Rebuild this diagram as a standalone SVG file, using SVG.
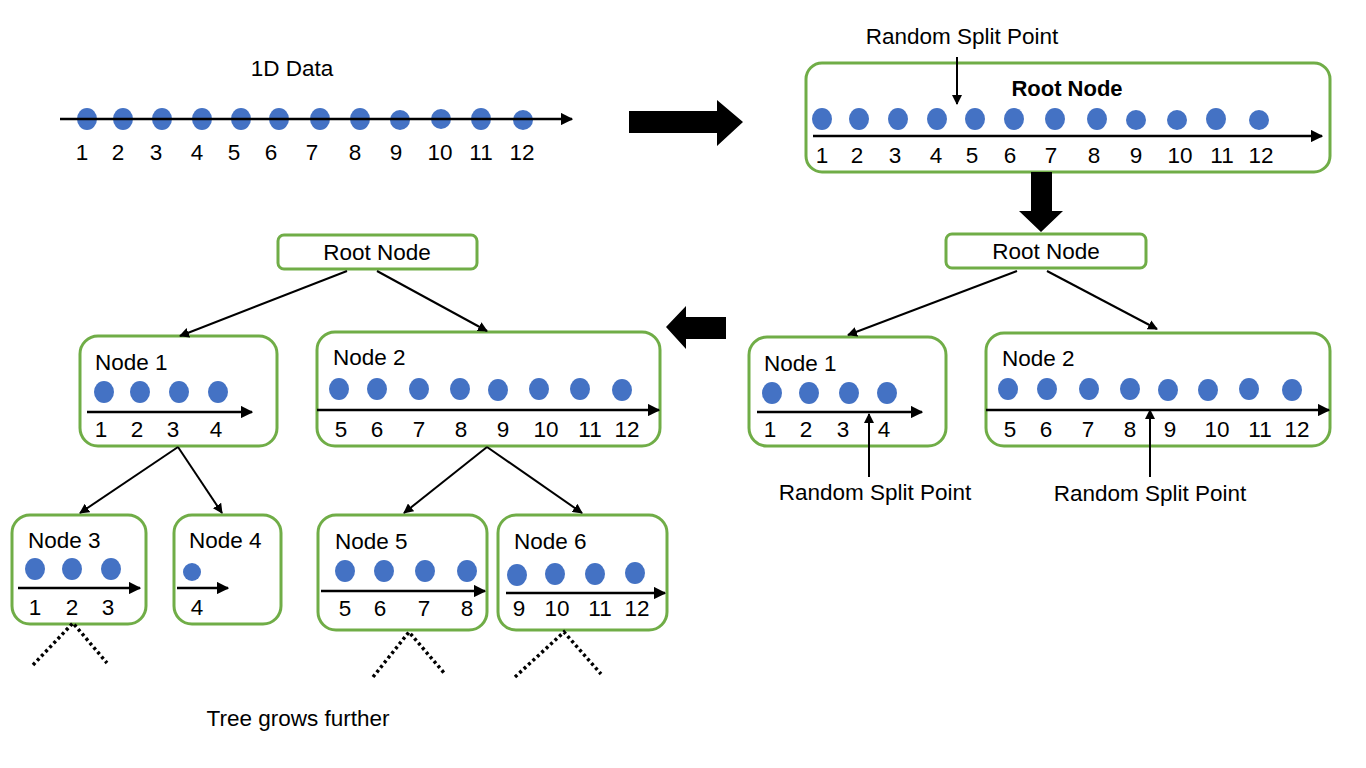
<svg xmlns="http://www.w3.org/2000/svg" width="1366" height="768" viewBox="0 0 1366 768">
<defs>
<marker id="ah" viewBox="0 0 10 10" refX="9" refY="5" markerWidth="5" markerHeight="5" orient="auto" markerUnits="strokeWidth">
<path d="M0,0 L10,5 L0,10 Z" fill="#000"/>
</marker>
<style>
text{font-family:"Liberation Sans",Arial,sans-serif;font-size:22.5px;fill:#000}
.c{text-anchor:middle}
.b{font-weight:bold;font-size:22px}
.box{fill:#fff;stroke:#70AD47;stroke-width:3}
.dot{fill:#4472C4}
.ax{stroke:#000;stroke-width:2.5;marker-end:url(#ah)}
.ln{stroke:#000;stroke-width:2;marker-end:url(#ah)}
.dt{stroke:#000;stroke-width:3.5;stroke-dasharray:3 3;fill:none}
</style>
</defs>
<rect width="1366" height="768" fill="#fff"/>

<g id="data1d">
<text class="c" x="292" y="76">1D Data</text>
<g class="dot">
<ellipse cx="87" cy="119" rx="10" ry="11"/><ellipse cx="123" cy="119" rx="10" ry="11"/><ellipse cx="162" cy="119" rx="10" ry="11"/><ellipse cx="202" cy="119" rx="10" ry="11"/><ellipse cx="241" cy="119" rx="10" ry="11"/><ellipse cx="279" cy="119" rx="10" ry="11"/><ellipse cx="320" cy="119" rx="10" ry="11"/><ellipse cx="360" cy="119" rx="10" ry="11"/><ellipse cx="400" cy="120" rx="10" ry="10"/><ellipse cx="441" cy="119" rx="10" ry="10"/><ellipse cx="481" cy="119" rx="10" ry="11"/><ellipse cx="523" cy="120" rx="10" ry="10"/>
</g>
<line class="ax" x1="60" y1="119" x2="572" y2="119"/>
<text class="c" x="82" y="160">1</text><text class="c" x="118" y="160">2</text><text class="c" x="156" y="160">3</text><text class="c" x="197" y="160">4</text><text class="c" x="234" y="160">5</text><text class="c" x="271" y="160">6</text><text class="c" x="312" y="160">7</text><text class="c" x="355" y="160">8</text><text class="c" x="396" y="160">9</text><text class="c" x="440" y="160">10</text><text class="c" x="481" y="160">11</text><text class="c" x="522" y="160">12</text>
</g>

<g id="bigArrowRight">
<polygon points="629,111 717,111 717,100 743,122 717,146 717,133 629,133" fill="#000"/>
</g>

<g id="rootNodeTop">
<rect class="box" x="806" y="63" width="524" height="109" rx="16"/>
<text class="c b" x="1067" y="96">Root Node</text>
<g class="dot">
<ellipse cx="822" cy="119" rx="10" ry="11"/><ellipse cx="859" cy="119" rx="10" ry="11"/><ellipse cx="898" cy="119" rx="10" ry="11"/><ellipse cx="937" cy="119" rx="10" ry="11"/><ellipse cx="975" cy="119" rx="10" ry="11"/><ellipse cx="1014" cy="119" rx="10" ry="11"/><ellipse cx="1055" cy="119" rx="10" ry="11"/><ellipse cx="1097" cy="119" rx="10" ry="11"/><ellipse cx="1136" cy="120" rx="10" ry="10"/><ellipse cx="1177" cy="120" rx="10" ry="10"/><ellipse cx="1216" cy="119" rx="10" ry="11"/><ellipse cx="1259" cy="120" rx="10" ry="10"/>
</g>
<line class="ax" x1="813" y1="136" x2="1322" y2="136"/>
<text class="c" x="822" y="163">1</text><text class="c" x="857" y="163">2</text><text class="c" x="895" y="163">3</text><text class="c" x="936" y="163">4</text><text class="c" x="972" y="163">5</text><text class="c" x="1010" y="163">6</text><text class="c" x="1051" y="163">7</text><text class="c" x="1094" y="163">8</text><text class="c" x="1136" y="163">9</text><text class="c" x="1180" y="163">10</text><text class="c" x="1222" y="163">11</text><text class="c" x="1261" y="163">12</text>
</g>

<g id="splitTop">
<text class="c" x="962" y="44">Random Split Point</text>
<line class="ln" x1="957" y1="57" x2="957" y2="104"/>
</g>

<g id="bigArrowDown">
<polygon points="1031,172 1052,172 1052,211 1063,211 1041,232 1019,211 1031,211" fill="#000"/>
</g>

<g id="rootNodeRight">
<rect class="box" x="946" y="234" width="200" height="34" rx="6"/>
<text class="c" x="1046" y="259">Root Node</text>
</g>

<g id="node1Right">
<rect class="box" x="749" y="337" width="197" height="109" rx="18"/>
<text x="764" y="371">Node 1</text>
<g class="dot"><ellipse cx="772" cy="393" rx="10" ry="11"/><ellipse cx="809" cy="393" rx="10" ry="11"/><ellipse cx="849" cy="393" rx="10" ry="11"/><ellipse cx="887" cy="393" rx="10" ry="11"/></g>
<line class="ax" x1="757" y1="412" x2="922" y2="412"/>
<text class="c" x="770" y="437">1</text><text class="c" x="806" y="437">2</text><text class="c" x="843" y="437">3</text><text class="c" x="884" y="437">4</text>
</g>

<g id="node2Right">
<rect class="box" x="986" y="333" width="344" height="113" rx="18"/>
<text x="1002" y="366">Node 2</text>
<g class="dot"><ellipse cx="1008" cy="389" rx="10" ry="11"/><ellipse cx="1047" cy="389" rx="10" ry="11"/><ellipse cx="1089" cy="389" rx="10" ry="11"/><ellipse cx="1130" cy="389" rx="10" ry="11"/><ellipse cx="1168" cy="390" rx="10" ry="11"/><ellipse cx="1208" cy="390" rx="10" ry="11"/><ellipse cx="1249" cy="389" rx="10" ry="11"/><ellipse cx="1292" cy="390" rx="10" ry="11"/></g>
<line class="ax" x1="986" y1="410" x2="1329" y2="410"/>
<text class="c" x="1010" y="437">5</text><text class="c" x="1046" y="437">6</text><text class="c" x="1088" y="437">7</text><text class="c" x="1130" y="437">8</text><text class="c" x="1170" y="437">9</text><text class="c" x="1217" y="437">10</text><text class="c" x="1260" y="437">11</text><text class="c" x="1297" y="437">12</text>
</g>

<g id="splitRight">
<line class="ln" x1="869" y1="477" x2="869" y2="414"/>
<text class="c" x="875" y="500">Random Split Point</text>
<line class="ln" x1="1150" y1="477" x2="1150" y2="410"/>
<text class="c" x="1150" y="501">Random Split Point</text>
</g>

<g id="bigArrowLeft">
<polygon points="726,317 686,317 686,306 666,327 686,349 686,339 726,339" fill="#000"/>
</g>

<g id="rootNodeLeft">
<rect class="box" x="278" y="235" width="199" height="34" rx="6"/>
<text class="c" x="377" y="260">Root Node</text>
</g>

<g id="node1Left">
<rect class="box" x="80" y="336" width="197" height="110" rx="18"/>
<text x="95" y="370">Node 1</text>
<g class="dot"><ellipse cx="104" cy="392" rx="10" ry="11"/><ellipse cx="140" cy="392" rx="10" ry="11"/><ellipse cx="179" cy="392" rx="10" ry="11"/><ellipse cx="218" cy="392" rx="10" ry="11"/></g>
<line class="ax" x1="87" y1="412" x2="252" y2="412"/>
<text class="c" x="101" y="437">1</text><text class="c" x="137" y="437">2</text><text class="c" x="173" y="437">3</text><text class="c" x="216" y="437">4</text>
</g>

<g id="node2Left">
<rect class="box" x="317" y="332" width="343" height="114" rx="18"/>
<text x="333" y="365">Node 2</text>
<g class="dot"><ellipse cx="339" cy="389" rx="10" ry="11"/><ellipse cx="377" cy="389" rx="10" ry="11"/><ellipse cx="419" cy="389" rx="10" ry="11"/><ellipse cx="460" cy="389" rx="10" ry="11"/><ellipse cx="498" cy="390" rx="10" ry="11"/><ellipse cx="539" cy="389" rx="10" ry="11"/><ellipse cx="580" cy="389" rx="10" ry="11"/><ellipse cx="622" cy="390" rx="10" ry="11"/></g>
<line class="ax" x1="317" y1="410" x2="659" y2="410"/>
<text class="c" x="341" y="437">5</text><text class="c" x="377" y="437">6</text><text class="c" x="419" y="437">7</text><text class="c" x="461" y="437">8</text><text class="c" x="503" y="437">9</text><text class="c" x="546" y="437">10</text><text class="c" x="590" y="437">11</text><text class="c" x="627" y="437">12</text>
</g>

<g id="node3">
<rect class="box" x="12" y="515" width="134" height="109" rx="18"/>
<text x="28" y="548">Node 3</text>
<g class="dot"><ellipse cx="35" cy="569" rx="10" ry="11"/><ellipse cx="72" cy="569" rx="10" ry="11"/><ellipse cx="111" cy="569" rx="10" ry="11"/></g>
<line class="ax" x1="18" y1="588" x2="140" y2="588"/>
<text class="c" x="35" y="615">1</text><text class="c" x="72" y="615">2</text><text class="c" x="108" y="615">3</text>
</g>

<g id="node4">
<rect class="box" x="174" y="515" width="107" height="109" rx="18"/>
<text x="189" y="548">Node 4</text>
<ellipse class="dot" cx="192" cy="572" rx="9" ry="9"/>
<line class="ax" x1="177" y1="588" x2="228" y2="588"/>
<text class="c" x="197" y="615">4</text>
</g>

<g id="node5">
<rect class="box" x="318" y="515" width="169" height="115" rx="18"/>
<text x="335" y="549">Node 5</text>
<g class="dot"><ellipse cx="345" cy="571" rx="10" ry="11"/><ellipse cx="384" cy="571" rx="10" ry="11"/><ellipse cx="425" cy="571" rx="10" ry="11"/><ellipse cx="467" cy="571" rx="10" ry="11"/></g>
<line class="ax" x1="321" y1="591" x2="485" y2="591"/>
<text class="c" x="345" y="616">5</text><text class="c" x="380" y="616">6</text><text class="c" x="424" y="616">7</text><text class="c" x="467" y="616">8</text>
</g>

<g id="node6">
<rect class="box" x="498" y="515" width="169" height="115" rx="18"/>
<text x="514" y="549">Node 6</text>
<g class="dot"><ellipse cx="517" cy="575" rx="10" ry="11"/><ellipse cx="555" cy="574" rx="10" ry="11"/><ellipse cx="595" cy="574" rx="10" ry="11"/><ellipse cx="635" cy="573" rx="10" ry="11"/></g>
<line class="ax" x1="506" y1="593" x2="665" y2="593"/>
<text class="c" x="519" y="616">9</text><text class="c" x="557" y="616">10</text><text class="c" x="600" y="616">11</text><text class="c" x="637" y="616">12</text>
</g>

<g id="connectors">
<line class="ln" x1="347" y1="271" x2="180" y2="336"/>
<line class="ln" x1="377" y1="271" x2="487" y2="331"/>
<line class="ln" x1="1017" y1="271" x2="848" y2="335"/>
<line class="ln" x1="1047" y1="271" x2="1157" y2="329"/>
<line class="ln" x1="178" y1="447" x2="80" y2="513"/>
<line class="ln" x1="178" y1="447" x2="222" y2="513"/>
<line class="ln" x1="487" y1="447" x2="404" y2="513"/>
<line class="ln" x1="487" y1="447" x2="582" y2="513"/>
<polyline class="dt" points="33,665 73,623 107,663"/>
<polyline class="dt" points="373,677 409,632 445,674"/>
<polyline class="dt" points="515,677 564,632 601,674"/>
</g>

<text class="c" x="298" y="726">Tree grows further</text>
</svg>
